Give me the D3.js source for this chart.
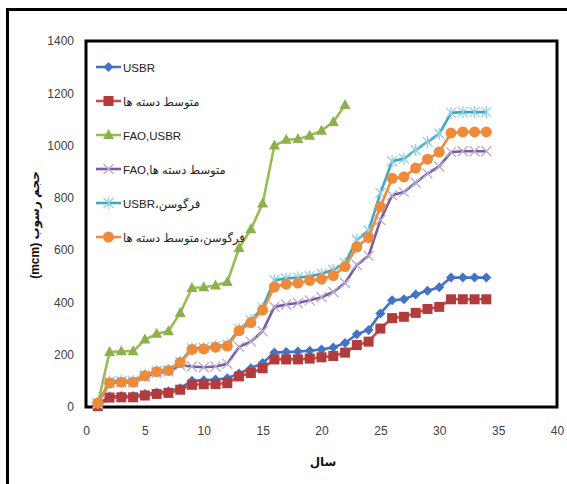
<!DOCTYPE html>
<html><head><meta charset="utf-8">
<script src="https://cdn.jsdelivr.net/npm/d3@7"></script>
<style>body{margin:0;background:#fff}svg{display:block}</style>
</head><body><div id="chart"></div>
<script>
const years = [1,2,3,4,5,6,7,8,9,10,11,12,13,14,15,16,17,18,19,20,21,22,23,24,25,26,27,28,29,30,31,32,33,34];
const usbr = [10,40,42,42,50,55,60,72,100,102,105,110,128,148,168,208,210,212,215,220,228,245,278,295,358,408,412,430,445,458,495,495,495,495];
const avgClusters = [3,36,37,37,44,50,54,66,85,87,88,91,117,130,148,182,182,182,185,190,195,208,237,250,300,340,345,360,375,383,412,412,412,412];
const faoUsbr = [12,210,213,213,258,280,290,360,455,458,465,478,608,680,778,1000,1022,1025,1038,1057,1090,1155];
const faoAvg = [12,92,94,94,116,130,136,160,155,152,155,165,230,250,290,383,392,398,408,420,440,474,543,578,715,810,822,858,893,920,975,978,978,978];
const fergUsbr = [15,98,100,100,122,138,142,172,225,226,232,238,298,332,380,485,492,495,500,510,525,550,640,675,818,940,950,983,1014,1045,1125,1128,1128,1128];
const fergAvg = [15,92,95,95,120,135,140,170,220,222,229,233,292,323,371,459,470,474,484,489,503,537,612,648,766,875,880,914,948,975,1048,1052,1052,1052];
const seriesNames = ["USBR","متوسط دسته ها","FAO,USBR","FAO,متوسط دسته ها","USBR،فرگوسن","فرگوسن،متوسط دسته ها"];
const xTicks = [0,5,10,15,20,25,30,35,40];
const yTicks = [0,200,400,600,800,1000,1200,1400];

const series = [
  {name:seriesNames[0], values:usbr, color:"#4472C4", mcolor:"#4472C4", marker:"diamond"},
  {name:seriesNames[1], values:avgClusters, color:"#C0504D", mcolor:"#B23B3B", marker:"square"},
  {name:seriesNames[2], values:faoUsbr, color:"#9BBB59", mcolor:"#8DB14A", marker:"triangle"},
  {name:seriesNames[3], values:faoAvg, color:"#7A5CA0", mcolor:"#B8A9D2", marker:"x"},
  {name:seriesNames[4], values:fergUsbr, color:"#3FA7BE", mcolor:"#93CFE0", marker:"star"},
  {name:seriesNames[5], values:fergAvg, color:"#F08A3C", mcolor:"#EE8A3A", marker:"circle"}
];

const W=567,H=484;
const svg=d3.select("#chart").append("svg").attr("width",W).attr("height",H);
svg.append("rect").attr("x",7.5).attr("y",9.5).attr("width",620).attr("height",520).attr("fill","#fff").attr("stroke","#000").attr("stroke-width",3);

const x=d3.scaleLinear().domain([0,40]).range([86,557]);
const y=d3.scaleLinear().domain([0,1400]).range([407,41]);

const xAxis=d3.axisBottom(x).tickValues(xTicks).tickFormat(d3.format("d")).tickSize(0).tickPadding(14);
const gx=svg.append("g").attr("transform","translate(0,412)").call(xAxis);
gx.select(".domain").remove();
gx.selectAll("text").attr("font-family","Liberation Sans, Arial").attr("font-size",12).attr("fill","#404040");
const yAxis=d3.axisLeft(y).tickValues(yTicks).tickFormat(d3.format("d")).tickSize(0).tickPadding(12);
const gy=svg.append("g").attr("transform","translate(86,0)").call(yAxis);
gy.select(".domain").remove();
gy.selectAll("text").attr("font-family","Liberation Sans, Arial").attr("font-size",12).attr("fill","#404040");

svg.append("rect").attr("x",86).attr("y",41).attr("width",471).attr("height",366).attr("fill","none").attr("stroke","#000").attr("stroke-width",3);

const line=d3.line().x((d,i)=>x(years[i])).y(d=>y(d));

function drawMarker(g,type,cx,cy,c){
  if(type==="diamond"){
    g.append("path").attr("d",`M${cx},${cy-5}L${cx+5},${cy}L${cx},${cy+5}L${cx-5},${cy}Z`).attr("fill",c);
  } else if(type==="square"){
    g.append("rect").attr("x",cx-5).attr("y",cy-5).attr("width",10).attr("height",10).attr("fill",c);
  } else if(type==="triangle"){
    g.append("path").attr("d",`M${cx},${cy-6}L${cx+5.5},${cy+4}L${cx-5.5},${cy+4}Z`).attr("fill",c);
  } else if(type==="circle"){
    g.append("circle").attr("cx",cx).attr("cy",cy).attr("r",5.5).attr("fill",c);
  } else if(type==="x"){
    g.append("path").attr("d",`M${cx-5},${cy-5}L${cx+5},${cy+5}M${cx-5},${cy+5}L${cx+5},${cy-5}`).attr("stroke",c).attr("stroke-width",1.3).attr("fill","none");
  } else if(type==="star"){
    g.append("path").attr("d",`M${cx-5},${cy-5}L${cx+5},${cy+5}M${cx-5},${cy+5}L${cx+5},${cy-5}M${cx},${cy-6}L${cx},${cy+6}`).attr("stroke",c).attr("stroke-width",1.3).attr("fill","none");
  }
}

const plot=svg.append("g");
series.forEach(s=>{
  const g=plot.append("g");
  g.append("path").datum(s.values).attr("d",line).attr("fill","none").attr("stroke",s.color).attr("stroke-width",2.6).attr("stroke-linejoin","round");
  s.values.forEach((v,i)=>drawMarker(g,s.marker,x(years[i]),y(v),s.mcolor));
});

const leg=svg.append("g");
series.forEach((s,i)=>{
  const ly=67+i*34;
  leg.append("line").attr("x1",96).attr("x2",121).attr("y1",ly).attr("y2",ly).attr("stroke",s.color).attr("stroke-width",2.6);
  drawMarker(leg,s.marker,108.5,ly,s.mcolor);
  leg.append("text").attr("x",123).attr("y",ly+4.5).attr("font-family","Liberation Sans, DejaVu Sans, Arial").attr("font-size",11.5).attr("fill","#222").text(s.name);
});

svg.append("text").attr("transform","translate(39,225) rotate(-90)").attr("text-anchor","middle").attr("direction","rtl")
  .attr("font-family","Liberation Sans, DejaVu Sans, Arial").attr("font-weight","bold").attr("font-size",12).attr("fill","#111").text("حجم رسوب (mcm)");
svg.append("text").attr("x",323).attr("y",466).attr("text-anchor","middle")
  .attr("font-family","Liberation Sans, DejaVu Sans, Arial").attr("font-weight","bold").attr("font-size",12).attr("fill","#111").text("سال");
</script></body></html>
